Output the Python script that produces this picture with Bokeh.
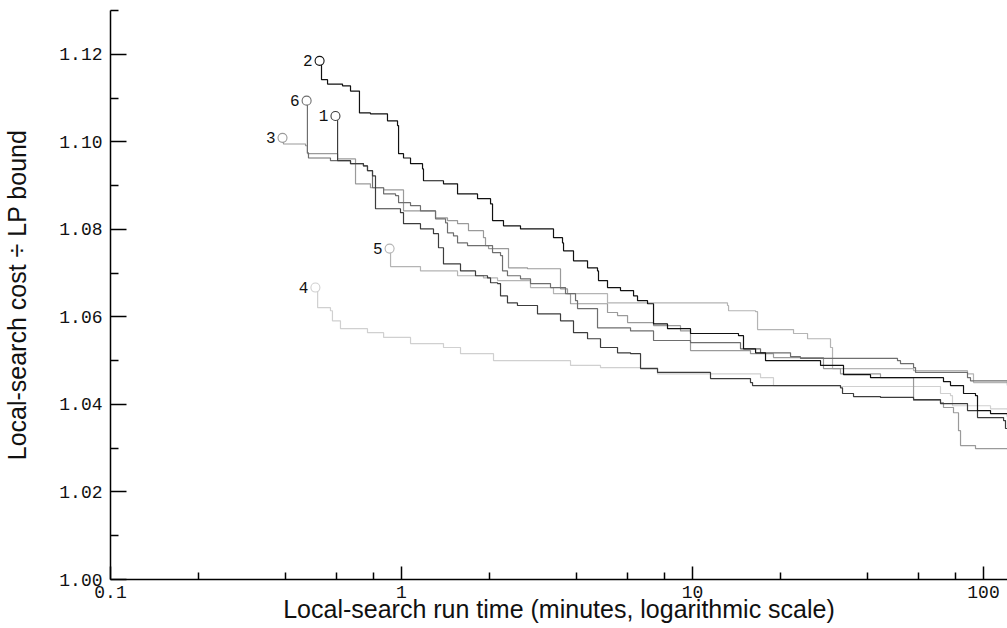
from bokeh.plotting import figure
from bokeh.models import FixedTicker, CustomJSTickFormatter, ColumnDataSource
from bokeh.embed import file_html
from bokeh.resources import INLINE
from bokeh.core.properties import value

# run time (minutes) and cost ratio for each local-search run
t1 = [0.593, 0.603, 0.668, 0.740, 0.764, 0.795, 0.814, 0.992, 1.016, 1.162, 1.288, 1.340, 1.394, 1.595, 1.796,
      1.975, 2.023, 2.138, 2.189, 2.313, 2.503, 2.933, 3.519, 3.900, 4.358, 4.829, 5.525, 6.124, 6.628, 7.582,
      11.53, 15.82, 16.08, 27.54, 32.25, 32.77, 35.75, 44.26, 57.49, 71.15, 88.10, 95.36, 117.2, 119.0, 120.9]
r1 = [1.1059, 1.0957, 1.0950, 1.0945, 1.0934, 1.0922, 1.0847, 1.0838, 1.0813, 1.0801, 1.0790, 1.0758, 1.0721,
      1.0705, 1.0694, 1.0689, 1.0678, 1.0676, 1.0648, 1.0632, 1.0626, 1.0607, 1.0591, 1.0564, 1.0550, 1.0530,
      1.0518, 1.0516, 1.0482, 1.0473, 1.0459, 1.0450, 1.0443, 1.0443, 1.0438, 1.0425, 1.0418, 1.0416, 1.0411,
      1.0402, 1.0386, 1.0370, 1.0363, 1.0345, 1.0345]

t2 = [0.523, 0.531, 0.557, 0.627, 0.668, 0.717, 0.717, 0.782, 0.895, 0.969, 0.977, 1.016, 1.074, 1.181, 1.190,
      1.394, 1.558, 1.825, 2.023, 2.055, 2.241, 2.564, 3.329, 3.575, 3.604, 3.900, 4.358, 4.716, 4.753, 5.104,
      5.656, 6.272, 6.472, 7.006, 7.346, 8.205, 9.843, 14.39, 14.97, 16.47, 17.82, 27.54, 33.03, 40.90, 72.86,
      77.01, 85.37, 93.86, 95.36, 105.7, 120.9]
r2 = [1.1185, 1.1142, 1.1132, 1.1128, 1.1116, 1.1100, 1.1066, 1.1064, 1.1048, 1.1037, 1.0973, 1.0963, 1.0950,
      1.0938, 1.0911, 1.0904, 1.0881, 1.0870, 1.0858, 1.0820, 1.0808, 1.0801, 1.0781, 1.0769, 1.0751, 1.0728,
      1.0712, 1.0705, 1.0683, 1.0667, 1.0660, 1.0648, 1.0637, 1.0630, 1.0584, 1.0573, 1.0562, 1.0557, 1.0527,
      1.0518, 1.0500, 1.0489, 1.0468, 1.0461, 1.0452, 1.0443, 1.0425, 1.0420, 1.0386, 1.0379, 1.0372]

t3 = [0.390, 0.393, 0.468, 0.475, 0.603, 0.695, 0.782, 0.868, 1.016, 1.309, 1.439, 1.558, 1.699, 1.913, 1.944,
      1.991, 2.332, 2.710, 3.519, 3.719, 3.809, 5.104, 5.525, 5.981, 7.346, 9.095, 9.843, 15.82, 18.98, 28.19,
      32.25, 44.26, 57.49, 71.15, 72.86, 78.86, 82.05, 83.37, 93.86, 120.9]
r3 = [1.1009, 1.0995, 1.0991, 1.0973, 1.0961, 1.0904, 1.0895, 1.0890, 1.0842, 1.0826, 1.0820, 1.0813, 1.0797,
      1.0781, 1.0763, 1.0756, 1.0712, 1.0710, 1.0664, 1.0653, 1.0630, 1.0610, 1.0603, 1.0587, 1.0580, 1.0568,
      1.0523, 1.0516, 1.0507, 1.0482, 1.0470, 1.0461, 1.0409, 1.0404, 1.0393, 1.0381, 1.0340, 1.0306, 1.0299,
      1.0297]

t4 = [0.506, 0.515, 0.570, 0.579, 0.617, 0.764, 0.868, 1.074, 1.394, 1.595, 2.071, 3.809, 4.829, 7.582, 17.13,
      18.98, 32.25, 71.15, 77.01, 78.24, 105.7, 120.9]
r4 = [1.0667, 1.0621, 1.0614, 1.0591, 1.0573, 1.0564, 1.0553, 1.0539, 1.0530, 1.0516, 1.0500, 1.0489, 1.0484,
      1.0470, 1.0461, 1.0443, 1.0441, 1.0425, 1.0420, 1.0397, 1.0390, 1.0386]

t5 = [0.910, 0.917, 1.162, 1.558, 1.913, 2.138, 2.775, 3.329, 5.104, 13.19, 13.30, 16.47, 16.73, 22.24, 24.85,
      29.80, 30.28, 57.49, 88.10, 92.38, 120.9]
r5 = [1.0756, 1.0715, 1.0705, 1.0694, 1.0689, 1.0683, 1.0667, 1.0653, 1.0632, 1.0626, 1.0614, 1.0612, 1.0571,
      1.0562, 1.0550, 1.0530, 1.0482, 1.0477, 1.0470, 1.0450, 1.0443]

t6 = [0.472, 0.475, 0.479, 0.570, 0.668, 0.740, 0.764, 0.795, 0.868, 0.954, 0.977, 1.074, 1.162, 1.309, 1.417,
      1.439, 1.509, 1.558, 1.686, 2.055, 2.189, 2.224, 2.313, 2.564, 2.775, 3.251, 3.661, 3.963, 4.026, 4.716,
      6.124, 7.346, 9.843, 14.62, 17.13, 21.72, 23.50, 50.63, 51.85, 57.49, 58.40, 88.10, 90.22, 120.9]
r6 = [1.1094, 1.0975, 1.0963, 1.0957, 1.0950, 1.0945, 1.0934, 1.0895, 1.0881, 1.0877, 1.0861, 1.0854, 1.0842,
      1.0824, 1.0815, 1.0792, 1.0785, 1.0769, 1.0763, 1.0747, 1.0740, 1.0705, 1.0694, 1.0687, 1.0676, 1.0667,
      1.0653, 1.0637, 1.0619, 1.0575, 1.0568, 1.0546, 1.0541, 1.0527, 1.0518, 1.0509, 1.0505, 1.0500, 1.0493,
      1.0484, 1.0473, 1.0461, 1.0454, 1.0443]

run_labels = ["1", "2", "3", "4", "5", "6"]
run_colors = ["#3c3c3c", "#111111", "#9a9a9a", "#d0d0d0", "#b4b4b4", "#6e6e6e"]

x_major = [0.1, 1, 10, 100]
x_minor = [0.2, 0.4, 0.6, 0.8, 2, 4, 6, 8, 20, 40, 60, 80]
y_major = [1.00, 1.02, 1.04, 1.06, 1.08, 1.10, 1.12]
y_minor = [1.01, 1.03, 1.05, 1.07, 1.09, 1.11, 1.13]

MONO = "Liberation Mono"
SANS = "Liberation Sans"

p = figure(width=1007, height=628, x_axis_type="log", x_range=(0.1, 120.9), y_range=(1.0, 1.13),
           output_backend="svg", toolbar_location=None,
           min_border_left=110, min_border_right=0, min_border_top=10, min_border_bottom=49)
p.outline_line_color = None
p.xgrid.visible = False
p.ygrid.visible = False
p.background_fill_color = "white"
p.border_fill_color = "white"

series_t = [t1, t2, t3, t4, t5, t6]
series_r = [r1, r2, r3, r4, r5, r6]
draw_order = [3, 4, 2, 5, 0, 1]
for i in draw_order:
    p.step(series_t[i], series_r[i], mode="after", line_color=run_colors[i], line_width=1.2)

start_src = ColumnDataSource(dict(
    x=[s[0] for s in series_t], y=[s[0] for s in series_r],
    label=run_labels, color=run_colors))
p.scatter("x", "y", source=start_src, marker="circle", size=9, fill_color="white",
          line_color="color", line_width=1.1)
p.text("x", "y", text="label", source=start_src, x_offset=-7, text_align="right",
       text_baseline="middle", text_font=value(MONO), text_font_size="16px", text_color="#111111")

# axes
xa = p.xaxis[0]
xa.ticker = FixedTicker(ticks=x_major, minor_ticks=x_minor)
xa.formatter = CustomJSTickFormatter(code="return String(tick);")
xa.axis_label = "Local-search run time (minutes, logarithmic scale)"
xa.major_tick_in = 13
xa.major_tick_out = 0
xa.minor_tick_in = 7
xa.minor_tick_out = 0
xa.major_label_standoff = 6
xa.axis_label_standoff = -6

ya = p.yaxis[0]
ya.ticker = FixedTicker(ticks=y_major, minor_ticks=y_minor)
ya.formatter = CustomJSTickFormatter(code="return tick.toFixed(2);")
ya.axis_label = "Local-search cost \u00f7 LP bound"
ya.major_tick_in = 16
ya.major_tick_out = 0
ya.minor_tick_in = 8
ya.minor_tick_out = 0
ya.major_label_standoff = 8
ya.axis_label_standoff = 25

for ax in (xa, ya):
    ax.axis_line_color = "black"
    ax.axis_line_width = 1.5
    ax.major_tick_line_color = "black"
    ax.major_tick_line_width = 1.5
    ax.minor_tick_line_color = "black"
    ax.minor_tick_line_width = 1.5
    ax.major_label_text_font = MONO
    ax.major_label_text_font_size = "18px"
    ax.major_label_text_color = "#111111"
    ax.axis_label_text_font = SANS
    ax.axis_label_text_font_size = "25px"
    ax.axis_label_text_font_style = "normal"
    ax.axis_label_text_color = "#111111"

open("out.html", "w").write(file_html(p, INLINE))
